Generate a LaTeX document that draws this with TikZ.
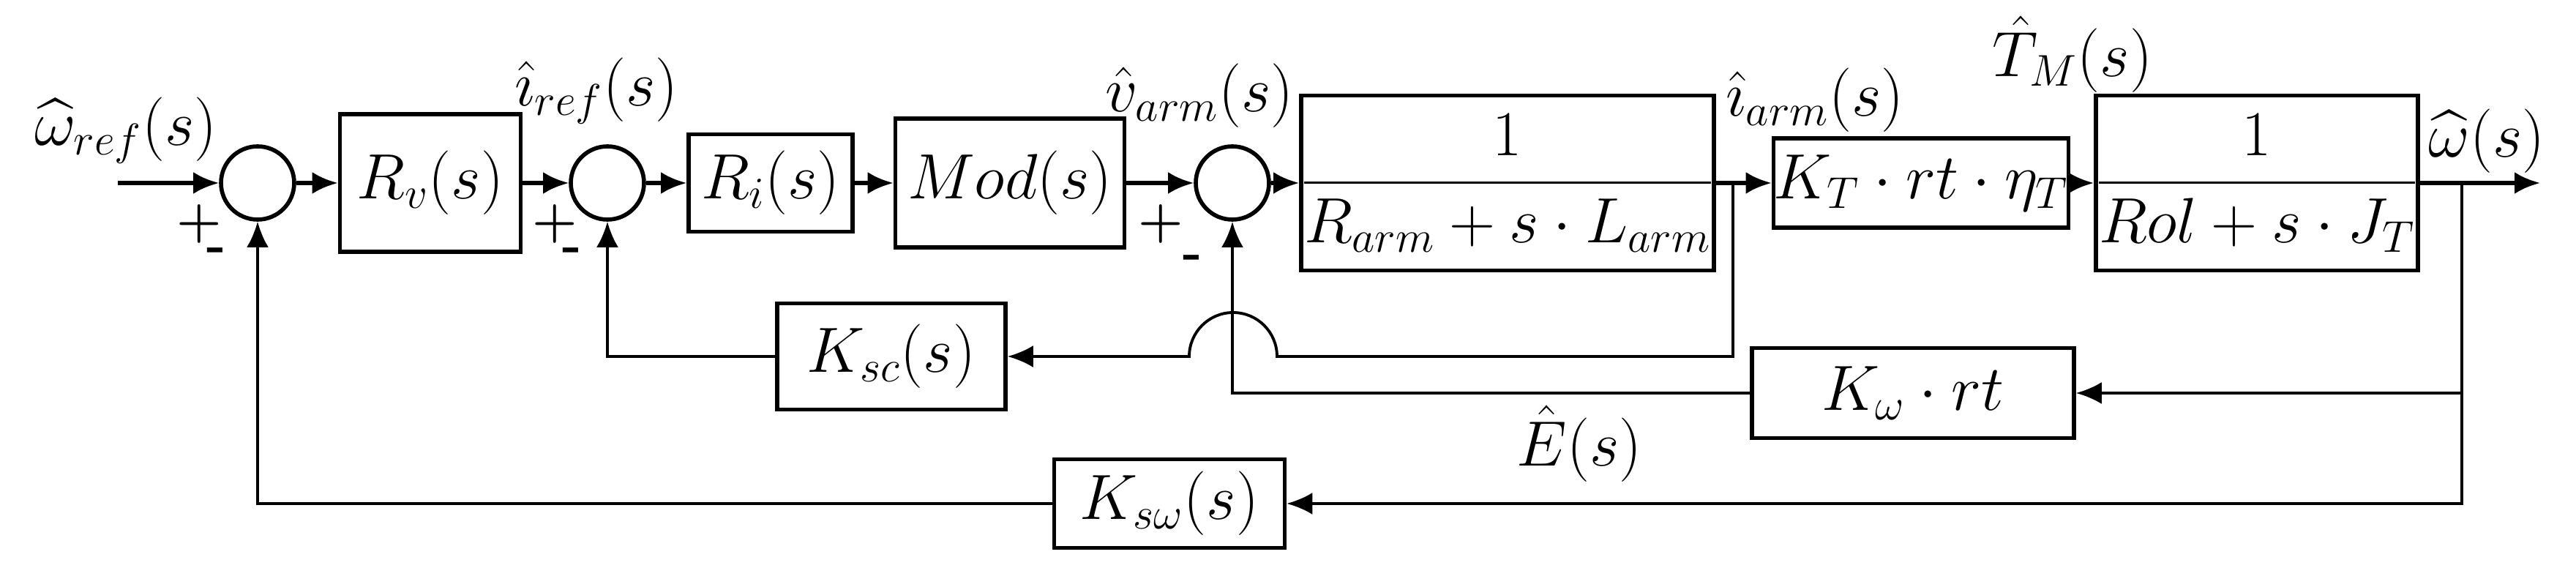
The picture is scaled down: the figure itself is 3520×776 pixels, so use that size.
\documentclass[tikz,border=0pt]{standalone}
\usepackage{amsmath}
\usetikzlibrary{arrows.meta, positioning}
\tikzset{
	blk/.style={shape=rectangle, draw, line width=1.6pt, inner sep=0pt, font=\fontsize{24}{28}\selectfont},
	sumc/.style={shape=circle, draw, line width=1.6pt, minimum size=10mm, inner sep=0pt},
	lbl/.style={draw=none, fill=none, font=\fontsize{24}{28}\selectfont},
	sgn/.style={draw=none, fill=none, inner sep=0pt, font=\fontsize{20}{24}\selectfont\bfseries},
	sig/.style={line width=1.6pt, -{Latex[length=3.5mm, width=3mm]}},
	fb/.style={line width=1.1pt, -{Latex[length=3.5mm, width=3mm]}}
}
\begin{document}
\begin{tikzpicture}[x=0.1mm, y=0.1mm]
		\useasboundingbox (0,0) rectangle (3520,776);
		
		% forward path
		\coordinate (in) at (161,526);
		\node[sumc] (s1) at (352,526) {};
		\node[blk, minimum width=24.7mm, minimum height=18.8mm] (rv) at (588,526) {$R_v(s)$};
		\node[sumc] (s2) at (830,526) {};
		\node[blk, minimum width=22.4mm, minimum height=13.3mm] (ri) at (1053,526) {$R_i(s)$};
		\node[blk, minimum width=31.3mm, minimum height=17.6mm] (mod) at (1380,526) {$Mod(s)$};
		\node[sumc] (s3) at (1684,526) {};
		\node[blk, minimum width=55.2mm, minimum height=23.9mm] (arm) at (2060,526) {$\dfrac{1}{R_{arm}+s\cdot L_{arm}}$};
		\node[blk, minimum width=38.7mm, minimum height=12.2mm] (kt) at (2625,526) {$K_T\cdot rt\cdot \eta_T$};
		\node[blk, minimum width=43mm, minimum height=23.9mm] (mech) at (3084,526) {$\dfrac{1}{Rol+s\cdot J_T}$};
		\coordinate (out) at (3471,526);
		\coordinate (tapi) at (2368,526);
		\coordinate (tapw) at (3364,526);
		
		% feedback blocks
		\node[blk, minimum width=31.2mm, minimum height=14.5mm] (ksc) at (1218,289) {$K_{sc}(s)$};
		\node[blk, minimum width=44mm, minimum height=12.3mm] (kw) at (2614,239) {$K_\omega\cdot rt$};
		\node[blk, minimum width=31.5mm, minimum height=12.1mm] (ksw) at (1598,88) {$K_{s\omega}(s)$};
		
		% signals
		\node[lbl] (lwref) at (172,598) {$\widehat{\omega}_{ref}(s)$};
		\node[lbl] (liref) at (815,652) {$\hat{\imath}_{ref}(s)$};
		\node[lbl] (lvarm) at (1639,645) {$\hat{v}_{arm}(s)$};
		\node[lbl] (liarm) at (2480,639) {$\hat{\imath}_{arm}(s)$};
		\node[lbl] (ltm) at (2832,702) {$\hat{T}_M(s)$};
		\node[lbl] (lw) at (3398,583) {$\widehat{\omega}(s)$};
		\node[lbl] (le) at (2158,170) {$\hat{E}(s)$};
		
		% signs
		\node[sgn] (p1) at (272,470) {+};
		\node[sgn] (m1) at (296,428) {-};
		\node[sgn] (p2) at (758,470) {+};
		\node[sgn] (m2) at (782,428) {-};
		\node[sgn] (p3) at (1586,470) {+};
		\node[sgn] (m3) at (1630,418) {-};
		
		% connectors
		\draw[sig] (in) -- (s1);
		\draw[sig] (s1) -- (rv);
		\draw[sig] (rv) -- (s2);
		\draw[sig] (s2) -- (ri);
		\draw[sig] (ri) -- (mod);
		\draw[sig] (mod) -- (s3);
		\draw[sig] (s3) -- (arm);
		\draw[sig] (arm) -- (kt);
		\draw[sig] (kt) -- (mech);
		\draw[sig] (mech) -- (out);
		
		\draw[fb] (tapi) |- (1745,289) arc[start angle=0, end angle=180, radius=60] -- (ksc.east);
		\draw[fb] (ksc.west) -| (s2.south);
		\draw[fb] (tapw) |- (kw.east);
		\draw[fb] (kw.west) -| (s3.south);
		\draw[fb] (tapw) |- (ksw.east);
		\draw[fb] (ksw.west) -| (s1.south);
	\end{tikzpicture}
\end{document}
